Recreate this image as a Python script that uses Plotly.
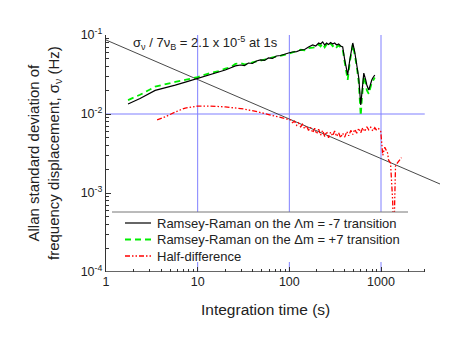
import plotly.graph_objects as go

# Ramsey-Raman on the -7 / +7 transitions (same integration times)
tau_rr = [1.74, 2.35, 3.44, 4.5, 5.69, 7.5, 10, 13.7, 17, 20,
          22.7, 25.8, 29.3, 32.4, 35.8, 39.6, 43.8, 48.4, 53.5, 59.2,
          65.5, 72.4, 80.1, 88.6, 98.0, 108, 120, 133, 147, 162,
          180, 194, 209, 219, 231, 243, 255, 268, 282, 297,
          312, 328, 345, 363, 382, 402, 423, 433, 456, 480,
          492, 517, 544, 572, 601, 617, 649, 682, 700, 735,
          773, 793, 813, 855]
minus7 = [0.0134, 0.0157, 0.0199, 0.0215, 0.0232, 0.0255, 0.0282, 0.0312, 0.0338, 0.0360,
          0.0382, 0.0406, 0.0417, 0.0411, 0.0442, 0.0436, 0.0469, 0.0483, 0.0476, 0.0512,
          0.0505, 0.0542, 0.0550, 0.0574, 0.0591, 0.0609, 0.0617, 0.0646, 0.0655, 0.0705,
          0.0747, 0.0726, 0.0792, 0.0770, 0.0815, 0.0747, 0.0792, 0.0758, 0.0804, 0.0770,
          0.0792, 0.0747, 0.0770, 0.0726, 0.0705, 0.0483, 0.0340, 0.0312, 0.0483, 0.0747,
          0.0792, 0.0609, 0.0442, 0.0286, 0.0130, 0.0174, 0.0330, 0.0269, 0.0233, 0.0201,
          0.0254, 0.0269, 0.0286, 0.0312]
plus7 = [0.0150, 0.0175, 0.0222, 0.0240, 0.0255, 0.0272, 0.0293, 0.0330, 0.0350, 0.0375,
         0.0390, 0.0430, 0.0440, 0.0425, 0.0430, 0.0450, 0.0460, 0.0470, 0.0490, 0.0500,
         0.0520, 0.0530, 0.0545, 0.0560, 0.0580, 0.0600, 0.0630, 0.0650, 0.0640, 0.0680,
         0.0690, 0.0700, 0.0760, 0.0720, 0.0780, 0.0700, 0.0760, 0.0720, 0.0780, 0.0720,
         0.0760, 0.0700, 0.0740, 0.0690, 0.0660, 0.0450, 0.0300, 0.0270, 0.0450, 0.0720,
         0.0760, 0.0560, 0.0400, 0.0250, 0.0095, 0.0150, 0.0300, 0.0240, 0.0200, 0.0180,
         0.0240, 0.0250, 0.0260, 0.0290]

# half-difference
tau_hd = [3.61, 4.42, 5.69, 7.31, 10, 13.7, 20, 31.6, 46, 62.3, 80,
          103, 108, 114, 120, 126, 133, 139, 147, 154, 162,
          170, 180, 189, 198, 209, 219, 231, 243, 255, 268,
          282, 297, 312, 328, 345, 363, 382, 402, 423, 445,
          468, 492, 517, 544, 572, 601, 633, 665, 700, 735,
          773, 813, 855, 899, 945, 994,
          1020, 1045, 1100, 1155, 1180, 1210, 1270, 1340, 1380, 1410, 1440, 1510, 1590, 1670]
half_diff = [0.0084, 0.0092, 0.0106, 0.0119, 0.0126, 0.0126, 0.0123, 0.0116, 0.0106, 0.0097, 0.0092,
             0.0084, 0.0078, 0.0081, 0.0072, 0.0077, 0.0069, 0.0074, 0.0065, 0.0071, 0.0062,
             0.0068, 0.0058, 0.0066, 0.0056, 0.0064, 0.0054, 0.0062, 0.0052, 0.0060, 0.0050,
             0.0059, 0.0053, 0.0061, 0.0052, 0.0058, 0.0050, 0.0057, 0.0051, 0.0060, 0.0053,
             0.0062, 0.0055, 0.0064, 0.0057, 0.0066, 0.0058, 0.0067, 0.0060, 0.0069, 0.0063,
             0.0068, 0.0061, 0.0067, 0.0062, 0.0065, 0.0060,
             0.0045, 0.0030, 0.0038, 0.0034, 0.0032, 0.0026, 0.0024, 0.0008, 0.00018, 0.0008,
             0.0022, 0.0024, 0.0026, 0.0028]

# sigma_nu / 7 nu_B reference slope (tau^-1/2)
sigma_tau = [1, 4400]
sigma_val = [0.0865, 0.0013]

x_major = [1, 10, 100, 1000]
x_labels = ["1", "10", "100", "1000"]
x_minor = [2, 3, 4, 5, 6, 7, 8, 9, 20, 30, 40, 50, 60, 70, 80, 90,
           200, 300, 400, 500, 600, 700, 800, 900, 2000, 3000]
y_major = [1e-4, 1e-3, 1e-2, 1e-1]
y_labels = ["10<sup>-4</sup>", "10<sup>-3</sup>", "10<sup>-2</sup>", "10<sup>-1</sup>"]

legend_names = ["Ramsey-Raman on the \u039bm = -7 transition",
                "Ramsey-Raman on the \u0394m = +7 transition",
                "Half-difference"]

# the page body adds an 8px offset, so the figure is 8px smaller
OFF = 8
W, H = 463 - OFF, 342 - OFF
L, R, T, B = 106 - OFF, 23, 35 - OFF, 70
FONT = "Liberation Sans, Arial, sans-serif"
INK = "#222222"
BLUE = "#8080ff"
PW, PH = W - L - R, H - T - B


def px(xp):
    # screen pixel -> paper x
    return (xp - OFF - L) / PW


def py(yp):
    # screen pixel -> paper y
    return (H - B - (yp - OFF)) / PH


RED_DASH = "5px,2px,1.5px,2px,1.5px,2px"
GREEN_DASH = "6px,4px"

fig = go.Figure()
fig.add_trace(go.Scatter(x=sigma_tau, y=sigma_val, mode="lines",
                         line=dict(color="#333333", width=0.9), showlegend=False))
fig.add_trace(go.Scatter(x=tau_hd, y=half_diff, mode="lines",
                         line=dict(color="#ff0000", width=1.3, dash=RED_DASH), showlegend=False))
fig.add_trace(go.Scatter(x=tau_rr, y=plus7, mode="lines",
                         line=dict(color="#00ee00", width=1.8, dash=GREEN_DASH), showlegend=False))
fig.add_trace(go.Scatter(x=tau_rr, y=minus7, mode="lines",
                         line=dict(color="#000000", width=1.2), showlegend=False))

shapes = []
# blue grid lines
for gx in [10, 100, 1000]:
    shapes.append(dict(type="line", xref="x", yref="y", x0=gx, x1=gx, y0=1e-4, y1=1e-1,
                       line=dict(color=BLUE, width=1), layer="below"))
shapes.append(dict(type="line", xref="x", yref="y", x0=1, x1=3000, y0=1e-2, y1=1e-2,
                   line=dict(color=BLUE, width=1.2), layer="below"))
# bottom axis line, ends at 3000
shapes.append(dict(type="line", xref="x", yref="y", x0=1, x1=3000, y0=1e-4, y1=1e-4,
                   line=dict(color="#333333", width=1.3), layer="above"))
# legend box: white background with a top rule
shapes.append(dict(type="rect", xref="paper", yref="paper", x0=px(112), x1=px(408),
                   y0=py(262), y1=py(212), fillcolor="white", line=dict(width=0), layer="above"))
shapes.append(dict(type="line", xref="paper", yref="paper", x0=px(112), x1=px(408),
                   y0=py(212), y1=py(212), line=dict(color="#777777", width=1), layer="above"))
legend_styles = [dict(color="#000000", width=1.2),
                 dict(color="#00ee00", width=1.8, dash=GREEN_DASH),
                 dict(color="#ff0000", width=1.3, dash=RED_DASH)]
legend_rows = [223, 239.5, 256]
for yy, st in zip(legend_rows, legend_styles):
    shapes.append(dict(type="line", xref="paper", yref="paper", x0=px(125), x1=px(151),
                       y0=py(yy), y1=py(yy), line=st, layer="above"))

annotations = []
for yy, name in zip(legend_rows, legend_names):
    annotations.append(dict(x=px(155), y=py(yy), xref="paper", yref="paper", text=name,
                            showarrow=False, xanchor="left", yanchor="middle",
                            font=dict(size=13, color=INK, family=FONT)))
annotations.append(dict(x=px(131), y=py(43), xref="paper", yref="paper",
                        text="\u03c3<sub>\u03bd</sub> / 7\u03bd<sub>B</sub> = 2.1 x 10<sup>-5</sup> at 1s",
                        showarrow=False, xanchor="left", yanchor="middle",
                        font=dict(size=13, color=INK, family=FONT)))
annotations.append(dict(x=px(265), y=py(309), xref="paper", yref="paper",
                        text="Integration time (s)", showarrow=False,
                        xanchor="center", yanchor="middle",
                        font=dict(size=15.5, color=INK, family=FONT)))
annotations.append(dict(x=px(44), y=py(153), xref="paper", yref="paper",
                        text="Allan standard deviation of<br>frequency displacement, \u03c3<sub>\u03bd</sub> (Hz)",
                        showarrow=False, textangle=-90, xanchor="center", yanchor="middle",
                        font=dict(size=15, color=INK, family=FONT)))

fig.update_layout(
    width=W, height=H,
    margin=dict(l=L, r=R, t=T, b=B),
    paper_bgcolor="white", plot_bgcolor="white",
    font=dict(family=FONT, color=INK, size=12.5),
    shapes=shapes, annotations=annotations,
    showlegend=False,
)
fig.update_xaxes(type="log", range=[0, 3.6435], showline=False, showgrid=False, zeroline=False,
                 tickmode="array", tickvals=x_major, ticktext=x_labels,
                 ticks="inside", ticklen=5, tickwidth=1, tickcolor="#333333",
                 minor=dict(tickmode="array", tickvals=x_minor, ticks="inside", ticklen=3,
                            tickwidth=1, tickcolor="#333333", showgrid=False),
                 tickfont=dict(size=12.5, color=INK, family=FONT))
fig.update_yaxes(type="log", range=[-4, -1], showline=True, linecolor="#333333", linewidth=1.3,
                 showgrid=False, zeroline=False,
                 tickmode="array", tickvals=y_major, ticktext=y_labels,
                 ticks="inside", ticklen=5, tickwidth=1, tickcolor="#333333",
                 minor=dict(ticks="inside", ticklen=3, tickwidth=1, tickcolor="#333333",
                            dtick="D1", showgrid=False),
                 tickfont=dict(size=12.5, color=INK, family=FONT))

fig.write_html("out.html")
